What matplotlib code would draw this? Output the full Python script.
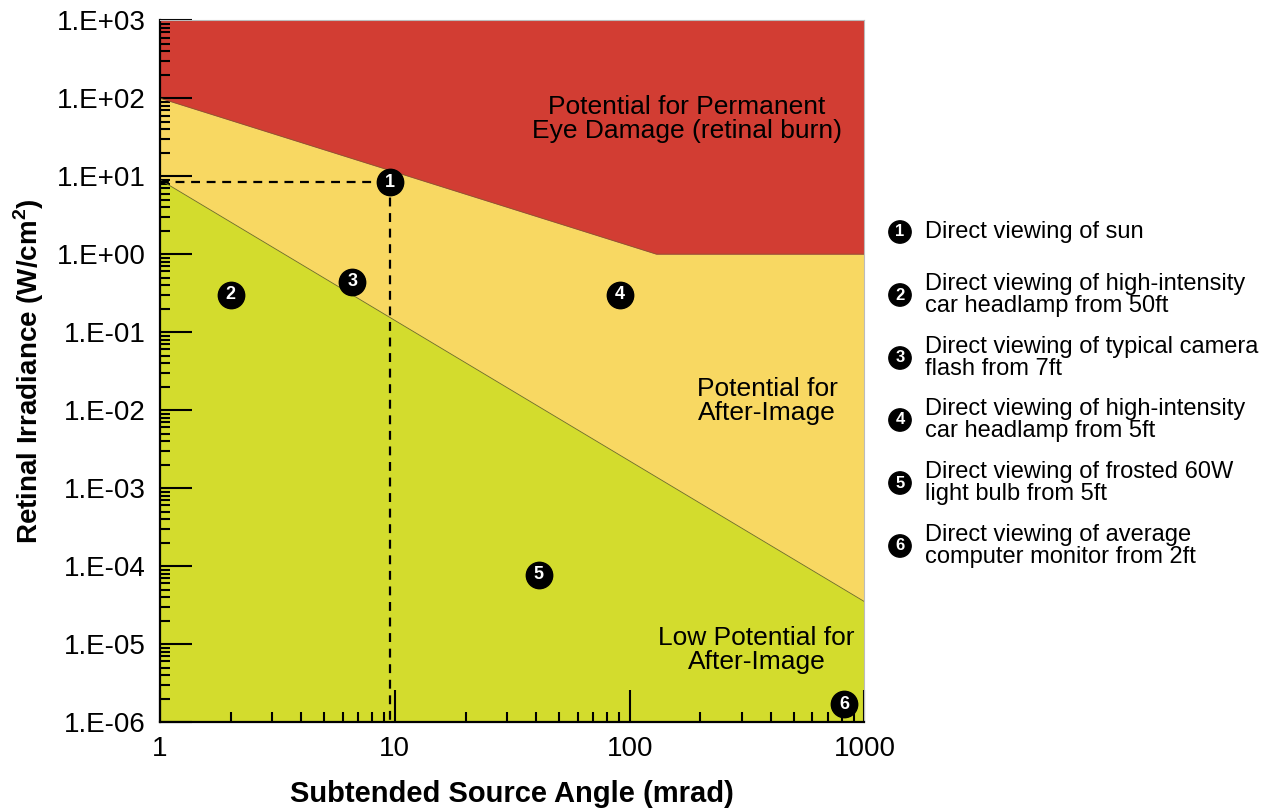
import matplotlib.pyplot as plt
import numpy as np
from matplotlib.ticker import LogLocator, FuncFormatter, FixedLocator, NullFormatter

plt.rcParams['font.family'] = ['Liberation Sans', 'DejaVu Sans']

# zone boundaries (mrad, W/cm2)
burn_x = [1, 130, 1000]
burn_y = [100, 1, 1]
after_x = [1, 1000]
after_y = [9, 3.5e-5]

# exposure points
pt_labels = ['1', '2', '3', '4', '5', '6']
pt_x = [9.5, 2.0, 6.6, 91, 41, 820]
pt_y = [8.4, 0.30, 0.44, 0.30, 7.7e-5, 1.7e-6]

# axis ticks
x_ticks = [1, 10, 100, 1000]
y_ticks = [1e-6, 1e-5, 1e-4, 1e-3, 1e-2, 1e-1, 1e0, 1e1, 1e2, 1e3]

legend_texts = [
    'Direct viewing of sun',
    'Direct viewing of high-intensity\ncar headlamp from 50ft',
    'Direct viewing of typical camera\nflash from 7ft',
    'Direct viewing of high-intensity\ncar headlamp from 5ft',
    'Direct viewing of frosted 60W\nlight bulb from 5ft',
    'Direct viewing of average\ncomputer monitor from 2ft',
]

red = '#D23D33'
yellow = '#F8D862'
green = '#D3DC2D'

fig = plt.figure(figsize=(12.75, 8.1), dpi=100)
ax = fig.add_axes([0.1255, 0.1086, 0.5525, 0.8664])
ax.set_xscale('log')
ax.set_yscale('log')
ax.set_xlim(1, 1000)
ax.set_ylim(1e-6, 1e3)

# zones
ax.fill_between(burn_x, 1e-6, burn_y, color=yellow, lw=0)
ax.fill_between(burn_x, burn_y, 1e3, color=red, lw=0)
ax.fill_between(after_x, 1e-6, after_y, color=green, lw=0)
ax.plot(burn_x, burn_y, color='#8a5a2a', lw=0.6)
ax.plot(after_x, after_y, color='#6b6b2a', lw=0.6)

# sun reference lines
ax.plot([1, pt_x[0]], [pt_y[0], pt_y[0]], color='black', lw=1.6, ls=(0, (4, 3)))
ax.plot([pt_x[0], pt_x[0]], [pt_y[0], 1e-6], color='black', lw=1.6, ls=(0, (4, 3)))

for lab, x, y in zip(pt_labels, pt_x, pt_y):
    ax.plot(x, y, 'o', ms=19, color='black', zorder=5)
    ax.text(x, y, lab, color='white', fontsize=13, fontweight='bold',
            ha='center', va='center', zorder=6)

zone_kw = dict(ha='center', va='center', fontsize=19, linespacing=1.0,
               transform=ax.transAxes)
ax.text(0.7475, 0.859, 'Potential for Permanent\nEye Damage (retinal burn)', **zone_kw)
ax.text(0.862, 0.458, 'Potential for\nAfter-Image', **zone_kw)
ax.text(0.847, 0.1026, 'Low Potential for\nAfter-Image', **zone_kw)

# axes styling
ax.yaxis.set_major_locator(FixedLocator(y_ticks))
ax.yaxis.set_minor_locator(LogLocator(base=10, subs=np.arange(2, 10), numticks=20))
ax.yaxis.set_minor_formatter(NullFormatter())
ax.yaxis.set_major_formatter(FuncFormatter(lambda v, p: '1.E%+03d' % int(round(np.log10(v)))))
ax.xaxis.set_major_locator(FixedLocator(x_ticks))
ax.xaxis.set_minor_locator(LogLocator(base=10, subs=np.arange(2, 10), numticks=20))
ax.xaxis.set_minor_formatter(NullFormatter())
ax.xaxis.set_major_formatter(FuncFormatter(lambda v, p: '%d' % v))

ax.tick_params(axis='both', which='major', direction='in', length=23, width=1.5,
               labelsize=20, pad=10, colors='black')
ax.tick_params(axis='both', which='minor', direction='in', length=7, width=1.5)
for s in ['left', 'bottom']:
    ax.spines[s].set_linewidth(1.6)
for s in ['top', 'right']:
    ax.spines[s].set_color('#bbbbbb')
    ax.spines[s].set_linewidth(0.8)

ax.set_xlabel('Subtended Source Angle (mrad)', fontsize=21, fontweight='bold', labelpad=13)
ax.set_ylabel('Retinal Irradiance (W/cm$^\\mathregular{2}$)', fontsize=20,
              fontweight='bold', labelpad=8)

# legend list
leg_y = [232, 295, 358, 420, 483, 546]
for lab, txt, py in zip(pt_labels, legend_texts, leg_y):
    fy = 1 - py / 810
    fig.text(900 / 1275, fy, lab, color='white', fontsize=12, fontweight='bold',
             ha='center', va='center',
             bbox=dict(boxstyle='circle,pad=0.22', fc='black', ec='black'))
    fig.text(925 / 1275, fy, txt, fontsize=17, ha='left', va='center', linespacing=0.95)

fig.savefig('out.png', dpi=100)
